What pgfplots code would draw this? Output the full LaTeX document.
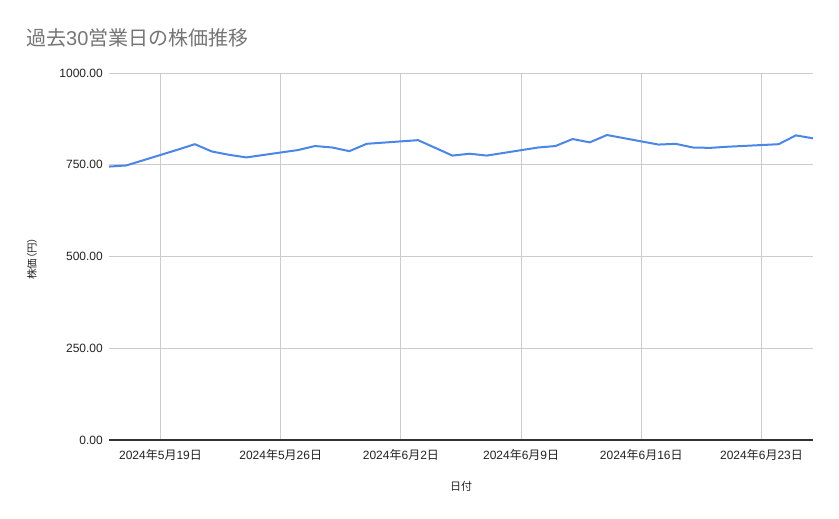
\documentclass[border=0pt]{standalone}
\usepackage{fontspec}
\setmainfont{Liberation Sans}
\newfontfamily\cjk{Noto Sans CJK JP}
\newfontfamily\cjkp[RawFeature=+palt]{Noto Sans CJK JP}
\usepackage{pgfplots}
\usepackage{pgfplotstable}
\pgfplotsset{compat=1.18}

\definecolor{seriesblue}{HTML}{4A86E8}
\definecolor{gridgray}{HTML}{CCCCCC}
\definecolor{titlegray}{HTML}{757575}
\definecolor{labelgray}{HTML}{222222}

\newcommand{\ymd}[3]{#1{\cjk 年}#2{\cjk 月}#3{\cjk 日}}

% day 0 = 2024-05-16, business days only
\pgfplotstableread{
day price
0 745
1 748
4 791
5 806
6 786
7 777
8 770
11 790
12 801
13 797
14 787
15 807
18 817
19 796
20 775
21 780
22 775
25 797
26 801
27 820
28 811
29 831
32 805
33 807
34 797
35 796
36 799
39 806
40 830
41 822
}\pricedata

\begin{document}
\begin{tikzpicture}[x=1pt,y=1pt]
\useasboundingbox (0,0) rectangle (839,519);
\node[anchor=west, inner sep=0pt, text=titlegray, font=\fontsize{20}{24}\selectfont] at (26,481) {{\cjk 過去}30{\cjk 営業日の株価推移}};
\node[inner sep=0pt, text=labelgray, font=\cjk\fontsize{11}{13}\selectfont] at (461,33) {日付};
\node[inner sep=0pt, rotate=90, text=labelgray, font=\cjkp\fontsize{10.5}{13}\selectfont] at (32,260) {株価（円）};
\begin{axis}[
    at={(109pt,79pt)}, anchor=south west,
    scale only axis,
    width=704pt, height=367pt,
    xmin=0, xmax=41,
    ymin=0, ymax=1000,
    axis line style={draw=none},
    major tick length=0pt,
    xtick={3,10,17,24,31,38},
    xticklabels={\ymd{2024}{5}{19},\ymd{2024}{5}{26},\ymd{2024}{6}{2},\ymd{2024}{6}{9},\ymd{2024}{6}{16},\ymd{2024}{6}{23}},
    ytick={0,250,500,750,1000},
    yticklabel={\pgfmathprintnumber[fixed,fixed zerofill,precision=2]{\tick}},
    /pgf/number format/assume math mode=true,
    /pgf/number format/1000 sep={},
    xticklabel style={font=\fontsize{12}{14}\selectfont, text=labelgray, inner sep=0pt, anchor=north, yshift=-9pt},
    yticklabel style={font=\fontsize{12}{14}\selectfont, text=labelgray, inner sep=0pt, anchor=east, xshift=-6pt},
    grid=major,
    major grid style={draw=gridgray, line width=0.9pt},
    extra y ticks={0},
    extra y tick labels={},
    extra y tick style={grid=major, major grid style={draw=black!80, line width=1.1pt}},
    clip=false,
]
\addplot[color=seriesblue, line width=2pt, mark=none, line join=round] table[x=day, y=price] {\pricedata};
\end{axis}
\end{tikzpicture}
\end{document}
